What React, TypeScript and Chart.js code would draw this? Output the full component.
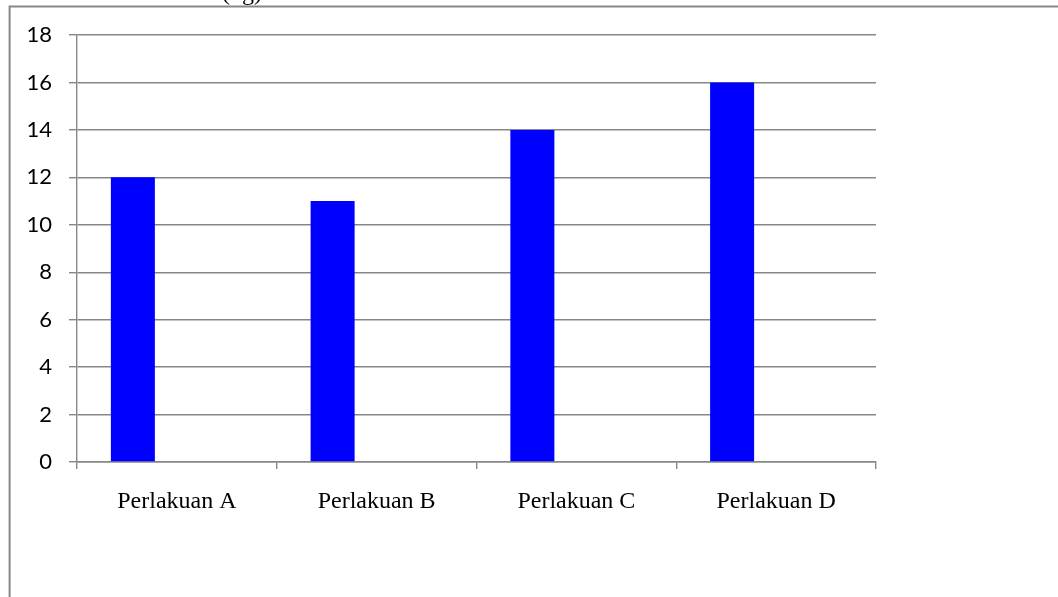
import React, { useEffect, useRef } from "react";
import { Chart, registerables } from "chart.js";

Chart.register(...registerables);

// Chart data
const categories = ["Perlakuan A", "Perlakuan B", "Perlakuan C", "Perlakuan D"];
const seriesMain = [12, 11, 14, 16];
// Two further series without values; they keep the grouped bar slots
const seriesEmpty1: (number | null)[] = [null, null, null, null];
const seriesEmpty2: (number | null)[] = [null, null, null, null];
const yTickMin = 0;
const yTickMax = 18;
const yTickStep = 2;
const unitLabel = "(kg)";

const GRID = "#878787";

// Frame lines on the left/top edges and the unit caption above the plot
const framePlugin = {
  id: "frame",
  beforeDraw(chart: Chart) {
    const ctx = chart.ctx;
    ctx.save();
    ctx.fillStyle = "#ffffff";
    ctx.fillRect(0, 0, chart.width, chart.height);
    ctx.strokeStyle = GRID;
    ctx.lineWidth = 2;
    ctx.beginPath();
    ctx.moveTo(9.6, 6.5);
    ctx.lineTo(9.6, chart.height);
    ctx.moveTo(8.6, 6.5);
    ctx.lineTo(chart.width, 6.5);
    ctx.stroke();
    ctx.fillStyle = "#000000";
    ctx.font = "24px 'Liberation Serif', 'Times New Roman', serif";
    ctx.textAlign = "center";
    ctx.textBaseline = "alphabetic";
    ctx.fillText(unitLabel, 242, 0);
    ctx.restore();
  },
};

export default function App() {
  const canvasRef = useRef<HTMLCanvasElement | null>(null);

  useEffect(() => {
    const canvas = canvasRef.current;
    if (!canvas) return;
    const chart = new Chart(canvas, {
      type: "bar",
      data: {
        labels: categories,
        datasets: [
          {
            label: "Seri 1",
            data: seriesMain,
            backgroundColor: "#0000ff",
            borderWidth: 0,
          },
          { label: "Seri 2", data: seriesEmpty1, backgroundColor: "#ff0000" },
          { label: "Seri 3", data: seriesEmpty2, backgroundColor: "#00aa00" },
        ],
      },
      options: {
        responsive: false,
        animation: false,
        devicePixelRatio: 1,
        categoryPercentage: 0.661,
        barPercentage: 1,
        layout: { padding: { top: 35, right: 182, bottom: 0, left: 0 } },
        plugins: {
          legend: { display: false },
          tooltip: { enabled: false },
          title: { display: false },
        },
        scales: {
          x: {
            offset: true,
            grid: {
              offset: true,
              drawOnChartArea: false,
              drawTicks: true,
              tickLength: 7,
              color: GRID,
              lineWidth: 1.4,
            },
            border: { display: true, color: GRID, width: 1.4 },
            ticks: {
              color: "#000000",
              padding: 18,
              maxRotation: 0,
              font: { family: "'Liberation Serif', 'Times New Roman', serif", size: 24 },
            },
            afterFit: (s: any) => {
              s.height = 135;
            },
          },
          y: {
            min: yTickMin,
            max: yTickMax,
            grid: {
              color: GRID,
              lineWidth: 1.4,
              drawTicks: true,
              tickLength: 8,
            },
            border: { display: true, color: GRID, width: 1.4 },
            ticks: {
              stepSize: yTickStep,
              color: "#000000",
              padding: 17,
              font: { family: "Lato, 'Open Sans', sans-serif", size: 22 },
            },
            afterFit: (s: any) => {
              s.width = 77;
            },
          },
        },
      },
      plugins: [framePlugin],
    });
    return () => chart.destroy();
  }, []);

  return (
    <div style={{ position: "fixed", left: 0, top: 0, width: 1058, height: 597, background: "#fff" }}>
      <canvas ref={canvasRef} width={1058} height={597} style={{ display: "block" }} />
    </div>
  );
}
